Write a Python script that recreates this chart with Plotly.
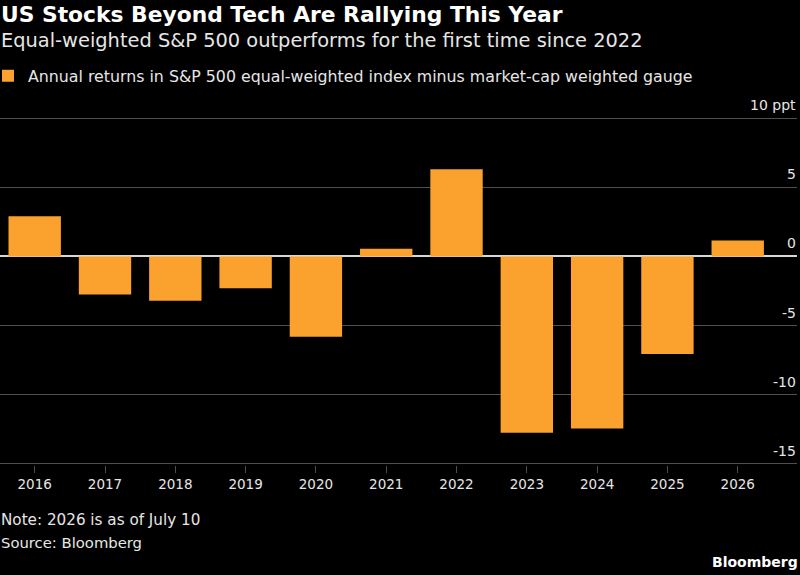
import plotly.graph_objects as go

years = ["2016", "2017", "2018", "2019", "2020", "2021", "2022", "2023", "2024", "2025", "2026"]
values = [2.9, -2.75, -3.2, -2.3, -5.8, 0.55, 6.3, -12.75, -12.45, -7.05, 1.15]
y_ticks = [10, 5, 0, -5, -10, -15]
y_tick_labels = ["10 ppt", "5", "0", "-5", "-10", "-15"]

title = "US Stocks Beyond Tech Are Rallying This Year"
subtitle = "Equal-weighted S&P 500 outperforms for the first time since 2022"
series_name = "Annual returns in S&P 500 equal-weighted index minus market-cap weighted gauge"
note = "Note: 2026 is as of July 10"
source = "Source: Bloomberg"
brand = "Bloomberg"

FONT = "DejaVu Sans"
ORANGE = "#fba22e"
GRID = "#4e4e4e"
TEXT = "#e6e6e6"

W, H = 800, 575
MT, MB, ML, MR = 116.6, 109.6, 0, 3
PH = H - MT - MB
PW = W - ML - MR


def py(px):
    """convert pixel-from-top to paper y"""
    return (H - px - MB) / PH


fig = go.Figure()
fig.add_trace(go.Bar(
    x=years, y=values, name=series_name,
    marker=dict(color=ORANGE, line=dict(width=0)),
    width=0.745, showlegend=True,
))

ann = [
    dict(text="<b>" + title + "</b>", x=0, y=py(14), font=dict(family=FONT, size=21.8, color="#ffffff")),
    dict(text=subtitle, x=0, y=py(40), font=dict(family=FONT, size=19.4, color=TEXT)),
    dict(text=note, x=0, y=py(521), font=dict(family=FONT, size=15.2, color=TEXT)),
    dict(text=source, x=0, y=py(543), font=dict(family=FONT, size=14.8, color=TEXT)),
]
for a in ann:
    a.update(xref="paper", yref="paper", xanchor="left", yanchor="middle", showarrow=False, xshift=-1)
ann.append(dict(text="<b>" + brand + "</b>", x=1, xref="paper", y=py(563), yref="paper",
                xanchor="right", yanchor="middle", showarrow=False, xshift=3,
                font=dict(family=FONT, size=14, color="#ffffff")))
for v, lab in zip(y_ticks, y_tick_labels):
    ann.append(dict(
        text=lab, x=1, xref="paper", y=v, yref="y", xanchor="right", yanchor="bottom",
        yshift=3, xshift=1, showarrow=False, font=dict(family=FONT, size=14, color=TEXT),
    ))

fig.update_layout(
    width=W, height=H,
    paper_bgcolor="#000000", plot_bgcolor="#000000",
    margin=dict(l=ML, r=MR, t=MT, b=MB, pad=0, autoexpand=False),
    font=dict(family=FONT, size=14, color=TEXT),
    showlegend=True,
    legend=dict(
        xref="container", yref="container",
        x=0, y=1 - 76 / H, xanchor="left", yanchor="middle", orientation="h",
        font=dict(family=FONT, size=15.8, color=TEXT), bgcolor="rgba(0,0,0,0)",
        itemwidth=30, indentation=-12,
    ),
    xaxis=dict(
        type="category", range=[-0.4936, 10.843],
        showgrid=False, ticks="outside", ticklen=7, tickcolor=GRID, tickwidth=1,
        showline=False, tickfont=dict(family=FONT, size=13.5, color=TEXT),
        fixedrange=True,
    ),
    yaxis=dict(
        range=[-15.08, 10.08], tickvals=y_ticks, showticklabels=False,
        showgrid=True, gridcolor=GRID, gridwidth=1.2,
        zeroline=True, zerolinecolor="#d8d8d8", zerolinewidth=1.5,
        fixedrange=True,
    ),
    annotations=ann,
)

fig.write_html(
    "out.html",
    config={"displayModeBar": False},
    post_script="document.body.style.margin='0';document.body.style.overflow='hidden';",
)
